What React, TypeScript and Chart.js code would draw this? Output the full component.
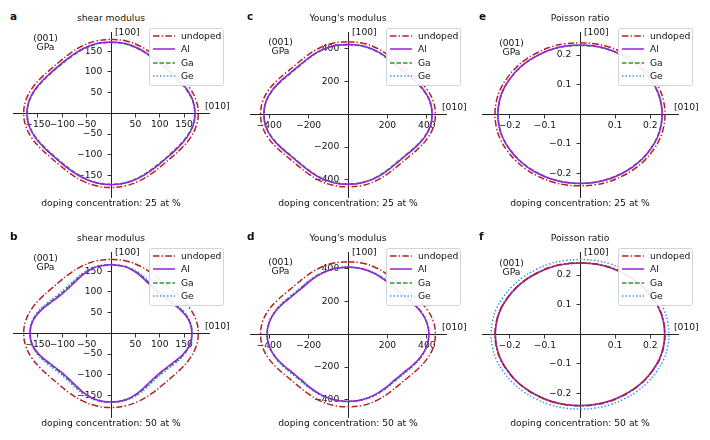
import { useEffect, useRef } from "react";
import { Chart, registerables } from "chart.js";

Chart.register(...registerables);

const FONT = "'DejaVu Sans', sans-serif";
Chart.defaults.font.family = FONT;
Chart.defaults.font.size = 9.2;
Chart.defaults.color = "#111";

// directions in the (001) plane, degrees from [100] towards [010]; the plots are
// mirror symmetric about both axes, so one quadrant of radii is read per curve
const quadrantAngles = [0, 10, 20, 30, 40, 50, 60, 70, 80, 90];

const seriesNames = ["undoped", "Al", "Ga", "Ge"];

// shear modulus, GPa
const shear25Undoped = [179, 177.5, 173, 167.5, 163.5, 163.5, 167.5, 173, 177.5, 179];
const shear25Al = [172.5, 171, 166.5, 161, 157.5, 157.5, 161, 166.5, 171, 172.5];
const shear25Ga = [171.5, 170, 165, 159.5, 156, 156, 159.5, 165, 170, 171.5];
const shear25Ge = [172, 170.5, 165.5, 160.5, 157, 157, 160.5, 165.5, 170.5, 172];

const shear50Undoped = [179, 177.5, 173, 167.5, 163.5, 163.5, 167.5, 173, 177.5, 179];
const shear50Al = [166, 163.5, 155, 145, 139, 139, 145, 155, 163.5, 166];
const shear50Ga = [166, 164, 156.5, 147, 141, 141, 147, 156.5, 164, 166];
const shear50Ge = [166.5, 164.5, 158, 149.5, 143.5, 143.5, 149.5, 158, 164.5, 166.5];

// Young's modulus, GPa
const young25Undoped = [443, 440, 429, 414, 403, 403, 414, 429, 440, 443];
const young25Al = [427, 424, 413, 398, 387, 387, 398, 413, 424, 427];
const young25Ga = [425, 422, 410.5, 395, 384, 384, 395, 410.5, 422, 425];
const young25Ge = [426, 423, 412, 397, 386, 386, 397, 412, 423, 426];

const young50Undoped = [443, 440, 429, 414, 403, 403, 414, 429, 440, 443];
const young50Al = [410, 406, 394, 378, 366, 366, 378, 394, 406, 410];
const young50Ga = [410, 406.5, 395.5, 381, 369.5, 369.5, 381, 395.5, 406.5, 410];
const young50Ge = [411, 407.5, 397.5, 384, 373, 373, 384, 397.5, 407.5, 411];

// Poisson ratio
const poisson25Undoped = [0.242, 0.242, 0.242, 0.241, 0.241, 0.241, 0.241, 0.242, 0.242, 0.242];
const poisson25Al = [0.234, 0.234, 0.234, 0.233, 0.233, 0.233, 0.233, 0.234, 0.234, 0.234];
const poisson25Ga = [0.233, 0.233, 0.233, 0.232, 0.232, 0.232, 0.232, 0.233, 0.233, 0.233];
const poisson25Ge = [0.234, 0.234, 0.234, 0.233, 0.233, 0.233, 0.233, 0.234, 0.234, 0.234];

const poisson50Undoped = [0.242, 0.242, 0.242, 0.241, 0.241, 0.241, 0.241, 0.242, 0.242, 0.242];
const poisson50Al = [0.241, 0.241, 0.241, 0.24, 0.24, 0.24, 0.24, 0.241, 0.241, 0.241];
const poisson50Ga = [0.241, 0.241, 0.241, 0.24, 0.24, 0.24, 0.24, 0.241, 0.241, 0.241];
const poisson50Ge = [0.253, 0.253, 0.253, 0.252, 0.252, 0.252, 0.252, 0.253, 0.253, 0.253];

const shearTicks = [-150, -100, -50, 50, 100, 150];
const youngTicks = [-400, -200, 200, 400];
const poissonTicks = [-0.2, -0.1, 0.1, 0.2];

const seriesStyles = [
  { color: "#b22222", dash: [6.5, 2.2, 1.4, 2.2] },
  { color: "#9b1fe0", dash: [] as number[] },
  { color: "#2a9a2a", dash: [4.5, 2] },
  { color: "#2f8fff", dash: [1.4, 2.1] },
];

interface PanelSpec {
  letter: string;
  title: string;
  caption: string;
  col: number;
  row: number;
  radii: number[][];
  ticks: number[];
  xMax: number;
  yMin: number;
  yMax: number;
}

const panels: PanelSpec[] = [
  { letter: "a", title: "shear modulus", caption: "doping concentration: 25 at %", col: 0, row: 0,
    radii: [shear25Undoped, shear25Al, shear25Ga, shear25Ge], ticks: shearTicks, xMax: 201, yMin: -202, yMax: 196.4 },
  { letter: "b", title: "shear modulus", caption: "doping concentration: 50 at %", col: 0, row: 1,
    radii: [shear50Undoped, shear50Al, shear50Ga, shear50Ge], ticks: shearTicks, xMax: 201, yMin: -202, yMax: 196.4 },
  { letter: "c", title: "Young's modulus", caption: "doping concentration: 25 at %", col: 1, row: 0,
    radii: [young25Undoped, young25Al, young25Ga, young25Ge], ticks: youngTicks, xMax: 497, yMin: -505, yMax: 502 },
  { letter: "d", title: "Young's modulus", caption: "doping concentration: 50 at %", col: 1, row: 1,
    radii: [young50Undoped, young50Al, young50Ga, young50Ge], ticks: youngTicks, xMax: 497, yMin: -505, yMax: 502 },
  { letter: "e", title: "Poisson ratio", caption: "doping concentration: 25 at %", col: 2, row: 0,
    radii: [poisson25Undoped, poisson25Al, poisson25Ga, poisson25Ge], ticks: poissonTicks, xMax: 0.279, yMin: -0.2796, yMax: 0.278 },
  { letter: "f", title: "Poisson ratio", caption: "doping concentration: 50 at %", col: 2, row: 1,
    radii: [poisson50Undoped, poisson50Al, poisson50Ga, poisson50Ge], ticks: poissonTicks, xMax: 0.279, yMin: -0.2796, yMax: 0.278 },
];

const COL_LEFT = [13, 250, 482];
const ROW_TOP = [32, 252];
const PLOT_W = 196;
const PLOT_H = 165;
const PAD = 8;
const UNIT_POS = [
  { x: 45.5, y: 38 },
  { x: 280.5, y: 42 },
  { x: 511.5, y: 43 },
];

// polar radii -> points on the plane, closed round all four quadrants
const toLoop = (radii: number[]) => {
  const n = quadrantAngles.length - 1;
  const pts: { x: number; y: number }[] = [];
  for (let q = 0; q < 4; q++) {
    for (let i = 0; i < n; i++) {
      const k = q % 2 === 0 ? i : n - i;
      const t = ((q * 90 + quadrantAngles[i]) * Math.PI) / 180;
      pts.push({ x: radii[k] * Math.sin(t), y: radii[k] * Math.cos(t) });
    }
  }
  pts.push(pts[0]);
  return pts;
};

const fmt = (v: number) => String(v).replace("-", "\u2212");

const text = (x: number, y: number, extra: React.CSSProperties = {}) => ({
  position: "absolute" as const,
  left: x,
  top: y - 6,
  lineHeight: "12px",
  fontSize: 9.2,
  whiteSpace: "nowrap" as const,
  color: "#111",
  ...extra,
});

const Panel = ({ spec }: { spec: PanelSpec }) => {
  const canvasRef = useRef<HTMLCanvasElement>(null);
  const chartRef = useRef<Chart | null>(null);

  useEffect(() => {
    if (!canvasRef.current) return;
    // labels on a value-positioned y axis sit flush on the line, so they carry their own gap
    const tickCfg = (gap: string): any => ({
      afterBuildTicks: (axis: any) => {
        axis.ticks = spec.ticks.map((value) => ({ value }));
      },
      grid: { display: true, drawOnChartArea: false, drawTicks: true, tickLength: 3.5, color: "#222", lineWidth: 0.9 },
      border: { display: true, color: "#222", width: 1 },
      ticks: { padding: 2, color: "#111", font: { size: 9.2 }, callback: (v: any) => fmt(Number(v)) + gap },
    });

    chartRef.current = new Chart(canvasRef.current, {
      type: "scatter",
      data: {
        datasets: spec.radii.map((r, i) => ({
          label: seriesNames[i],
          data: toLoop(r),
          showLine: true,
          borderColor: seriesStyles[i].color,
          borderDash: seriesStyles[i].dash,
          borderWidth: 1.5,
          pointRadius: 0,
          tension: 0.4,
          fill: false,
        })),
      },
      options: {
        animation: false,
        responsive: true,
        maintainAspectRatio: false,
        layout: { padding: PAD },
        plugins: { legend: { display: false }, tooltip: { enabled: false } },
        scales: {
          x: { type: "linear", min: -spec.xMax, max: spec.xMax, position: { y: 0 }, ...tickCfg("") },
          y: { type: "linear", min: spec.yMin, max: spec.yMax, position: { x: 0 }, ...tickCfg("   ") },
        },
      },
    });

    return () => {
      chartRef.current?.destroy();
      chartRef.current = null;
    };
  }, [spec]);

  const left = COL_LEFT[spec.col];
  const top = ROW_TOP[spec.row];
  const cx = left + PLOT_W / 2;
  const axisY = top + (PLOT_H * spec.yMax) / (spec.yMax - spec.yMin);
  const unit = UNIT_POS[spec.col];
  const rowShift = spec.row * 220;

  return (
    <>
      <div style={{ position: "absolute", left: left - PAD, top: top - PAD, width: PLOT_W + 2 * PAD, height: PLOT_H + 2 * PAD }}>
        <canvas ref={canvasRef} />
      </div>
      <div style={text(left - 3, top - 16, { fontWeight: "bold", fontSize: 10.5 })}>{spec.letter}</div>
      <div style={text(cx, top - 14.5, { transform: "translateX(-50%)" })}>{spec.title}</div>
      <div style={text(unit.x, unit.y + rowShift, { transform: "translateX(-50%)" })}>(001)</div>
      <div style={text(unit.x, unit.y + 8.5 + rowShift, { transform: "translateX(-50%)" })}>GPa</div>
      <div style={text(cx + 4, top - 0.5)}>[100]</div>
      <div style={text(left + PLOT_W - 4, axisY - 7)}>[010]</div>
      <div style={text(cx, top + 171.3, { transform: "translateX(-50%)" })}>{spec.caption}</div>
      <div
        style={{
          position: "absolute",
          left: left + 136,
          top: top - 4.5,
          width: 75,
          height: 58,
          boxSizing: "border-box",
          border: "1px solid #d4d4d4",
          borderRadius: 2.5,
          background: "rgba(255,255,255,0.9)",
        }}
      >
        {seriesNames.map((name, i) => (
          <div
            key={name}
            style={{ position: "absolute", left: 2.5, top: 7.3 + i * 13.55 - 6, height: 12, display: "flex", alignItems: "center" }}
          >
            <svg width={22} height={6} style={{ display: "block" }}>
              <line
                x1={0}
                y1={3}
                x2={22}
                y2={3}
                stroke={seriesStyles[i].color}
                strokeWidth={1.5}
                strokeDasharray={seriesStyles[i].dash.join(" ")}
              />
            </svg>
            <span style={{ marginLeft: 6.5, fontSize: 9.2, lineHeight: "12px", color: "#111" }}>{name}</span>
          </div>
        ))}
      </div>
    </>
  );
};

export default function App() {
  return (
    <div style={{ position: "absolute", left: 0, top: 0, width: 710, height: 440, background: "#fff", fontFamily: FONT }}>
      {panels.map((p) => (
        <Panel key={p.letter} spec={p} />
      ))}
    </div>
  );
}
